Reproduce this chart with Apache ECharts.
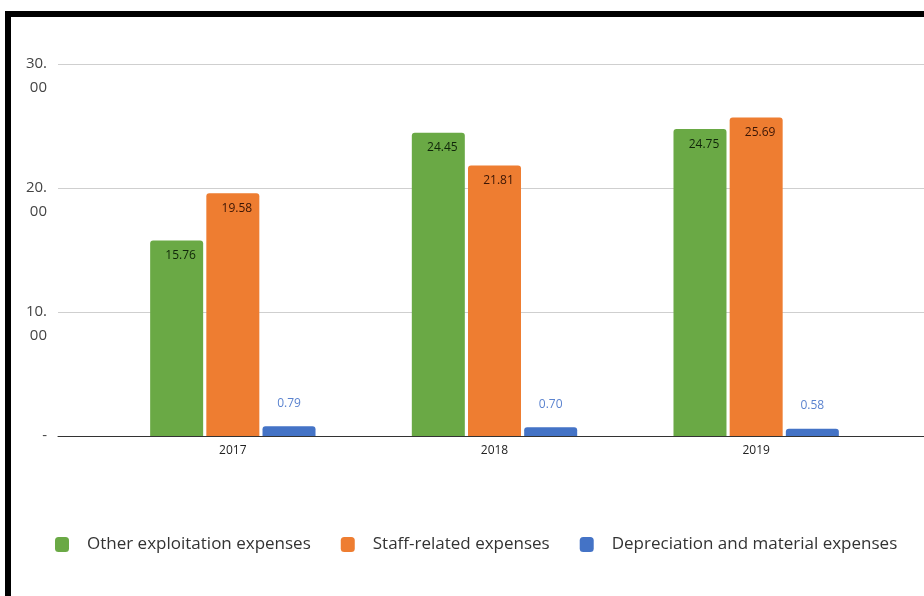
<!DOCTYPE html>
<html>
<head>
<meta charset="utf-8">
<script src="https://cdn.jsdelivr.net/npm/echarts@6/dist/echarts.min.js"></script>
<style>
  html, body { margin: 0; padding: 0; background: #ffffff; }
  #chart { width: 924px; height: 596px; }
</style>
</head>
<body>
<div id="chart"></div>
<script>
// Expense breakdown per year
const years = ['2017', '2018', '2019'];
const otherExploitation = [15.76, 24.45, 24.75];
const staffRelated = [19.58, 21.81, 25.69];
const depreciationMaterial = [0.79, 0.70, 0.58];
const seriesNames = ['Other exploitation expenses', 'Staff-related expenses', 'Depreciation and material expenses'];
const yTicks = [0, 10, 20, 30];

const colors = ['#6aa945', '#ee7d31', '#4473c6'];
const labelFont = 'Open Sans';

// Y tick text: zero shows a dash, others split after the decimal point
function yLabel(v) {
  if (v === 0) return '-';
  const s = v.toFixed(2).split('.');
  return '\n' + s[0] + '.\n' + s[1];
}

const chart = echarts.init(document.getElementById('chart'), null, { renderer: 'canvas' });

const gridTop = 64;
const gridBottom = 160;

function barSeries(name, data, idx, labelCfg) {
  return {
    name: name,
    type: 'bar',
    xAxisIndex: 1,
    yAxisIndex: 1,
    data: data,
    barWidth: 53,
    barGap: '6%',
    itemStyle: { color: colors[idx], borderRadius: [3, 3, 0, 0] },
    label: labelCfg
  };
}

const innerLabel = (color) => ({
  show: true,
  position: 'insideTop',
  distance: 9,
  offset: [4, 0],
  color: color,
  fontFamily: labelFont,
  fontSize: 12,
  formatter: (p) => p.value.toFixed(2)
});

chart.setOption({
  animation: false,
  backgroundColor: '#ffffff',
  grid: [
    { left: 58, right: -40, top: gridTop, bottom: gridBottom },
    { left: 102, right: 37, top: gridTop, bottom: gridBottom }
  ],
  legend: {
    data: seriesNames,
    left: 50,
    top: 531,
    itemWidth: 14,
    itemHeight: 15,
    itemGap: 30,
    icon: 'roundRect',
    textStyle: {
      fontFamily: labelFont,
      fontSize: 17,
      color: '#333333',
      padding: [0, 0, 0, 13]
    }
  },
  xAxis: [
    {
      type: 'category',
      gridIndex: 0,
      data: [''],
      axisLine: { show: true, lineStyle: { color: '#333333', width: 1 } },
      axisTick: { show: false },
      axisLabel: { show: false }
    },
    {
      type: 'category',
      gridIndex: 1,
      data: years,
      axisLine: { show: false },
      axisTick: { show: false },
      axisLabel: {
        color: '#222222',
        fontFamily: labelFont,
        fontSize: 12,
        margin: 9
      }
    }
  ],
  yAxis: [
    {
      type: 'value',
      gridIndex: 0,
      min: yTicks[0],
      max: yTicks[yTicks.length - 1],
      interval: 10,
      axisLine: { show: false },
      axisTick: { show: false },
      splitLine: { lineStyle: { color: '#cfcfcf', width: 1 } },
      axisLabel: {
        formatter: yLabel,
        color: '#444444',
        fontFamily: labelFont,
        fontSize: 15,
        lineHeight: 24,
        align: 'right',
        margin: 11
      }
    },
    {
      type: 'value',
      gridIndex: 1,
      min: yTicks[0],
      max: yTicks[yTicks.length - 1],
      interval: 10,
      show: false
    }
  ],
  series: [
    barSeries(seriesNames[0], otherExploitation, 0, innerLabel('#10260a')),
    barSeries(seriesNames[1], staffRelated, 1, innerLabel('#3a1505')),
    barSeries(seriesNames[2], depreciationMaterial, 2, {
      show: true,
      position: 'top',
      distance: 17,
      color: '#5b83cf',
      fontFamily: labelFont,
      fontSize: 12,
      formatter: (p) => p.value.toFixed(2)
    })
  ],
  graphic: [
    // frame edges along the top and left
    { type: 'rect', left: 5, top: 11, shape: { width: 930, height: 6 }, style: { fill: '#000000' }, z: 100 },
    { type: 'rect', left: 5, top: 11, shape: { width: 6, height: 600 }, style: { fill: '#000000' }, z: 100 }
  ]
});
</script>
</body>
</html>
